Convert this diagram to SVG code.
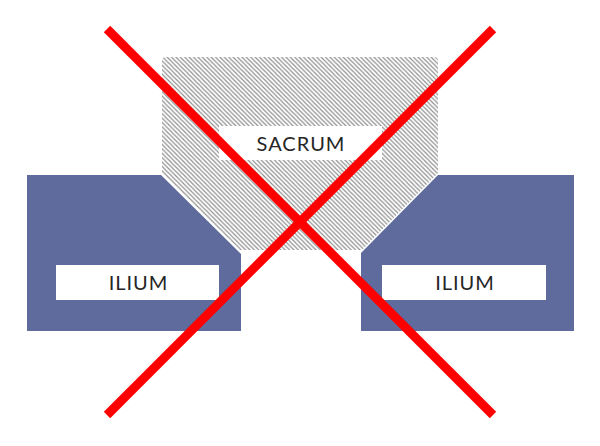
<svg xmlns="http://www.w3.org/2000/svg" width="600" height="446" viewBox="0 0 600 446">
<defs>
<pattern id="hatch" patternUnits="userSpaceOnUse" width="4.4" height="4.4">
<rect width="4.4" height="4.4" fill="#ffffff"/>
<path d="M0,0 L4.4,4.4 M-1,3.4 L1,5.4 M3.4,-1 L5.4,1" stroke="#8f8f8f" stroke-width="1.2"/>
</pattern>
</defs>
<style>
.bone{fill:#5e6b9c}
.label{fill:#ffffff}
.txt{font-family:"Lato","Liberation Sans",sans-serif;font-size:20px;fill:#262626;text-anchor:middle;letter-spacing:1px}
.x{stroke:#ff0000;stroke-width:9;stroke-linecap:butt}
</style>
<rect width="600" height="446" fill="#ffffff"/>
<g id="sacrum">
<path d="M166,57 L434,57 Q438,57 438,61 L438,173 L362,250 L240,250 L162,173 L162,61 Q162,57 166,57 Z" fill="url(#hatch)"/>
<rect class="label" x="219" y="126" width="163" height="34"/>
<text class="txt" x="301" y="151">SACRUM</text>
</g>
<g id="ilium-left">
<path class="bone" d="M27,175 L161,175 L241,254 L241,331 L27,331 Z"/>
<rect class="label" x="56" y="265" width="163" height="35"/>
<text class="txt" x="138.5" y="290">ILIUM</text>
</g>
<g id="ilium-right">
<path class="bone" d="M438,175 L574,175 L574,331 L361,331 L361,253 Z"/>
<rect class="label" x="382" y="265" width="164" height="35"/>
<text class="txt" x="465" y="290">ILIUM</text>
</g>
<g id="connectors">
<line class="x" x1="107" y1="29" x2="493" y2="415"/>
<line class="x" x1="493" y1="29" x2="107" y2="415"/>
</g>
</svg>
